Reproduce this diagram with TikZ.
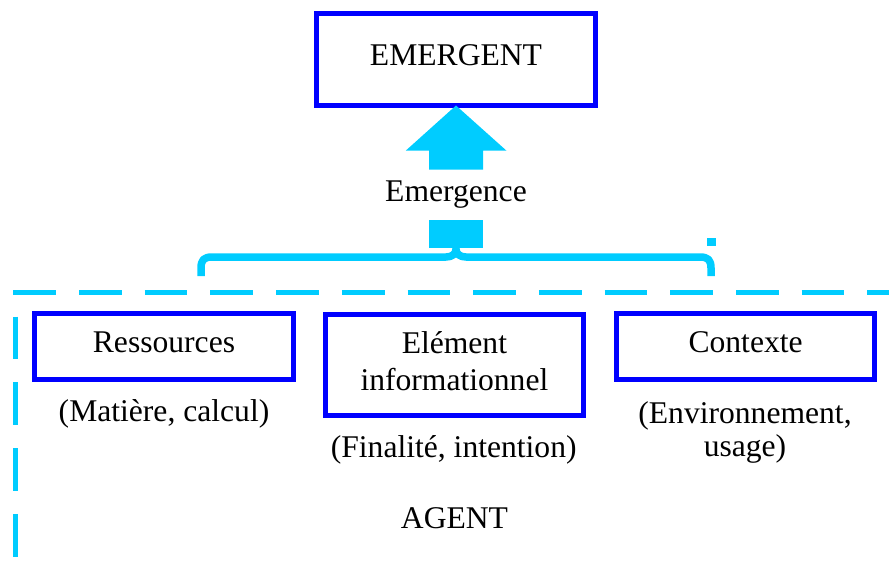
\documentclass[tikz,border=0pt]{standalone}
\usepackage{fontspec}
\setmainfont{Liberation Serif}
\definecolor{boxblue}{RGB}{0,0,255}
\definecolor{skycyan}{RGB}{0,204,255}
\begin{document}
\begin{tikzpicture}[x=1pt,y=-1pt,
  box/.style={draw=boxblue, line width=5pt, rectangle, inner sep=0pt, outer sep=0pt,
    minimum width=258.3pt, font=\fontsize{31.6}{37}\selectfont, text height=21pt, text depth=8.5pt},
  lbl/.style={inner sep=0pt, anchor=base, font=\fontsize{31.6}{37}\selectfont},
  dashline/.style={draw=skycyan, line width=5pt, dash pattern=on 42.7pt off 23pt},
  bracestyle/.style={draw=skycyan, line width=7.5pt, line join=round}]
\useasboundingbox (0,0) rectangle (889,570);

% boxes
\node[box, minimum width=279pt, minimum height=92pt] (emergent) at (456,59.5) {EMERGENT};
\node[box, minimum height=65.3pt] (res) at (164,346.6) {Ressources};
\node[box, minimum height=101.6pt, text height=60pt, text depth=8.6pt] (elem) at (454.4,365)
  {\begin{tabular}[b]{@{}c@{}}Elément\\informationnel\end{tabular}};
\node[box, minimum height=65.3pt] (ctx) at (745.6,346.6) {Contexte};

% labels
\node[lbl] (emlabel) at (456,201.7) {Emergence};
\node[lbl] (resnote) at (164,421.7) {(Matière, calcul)};
\node[lbl] (elemnote) at (453.7,457.5) {(Finalité, intention)};
\node[lbl, font=\fontsize{31.6}{33.4}\selectfont] (ctxnote) at (745,423.3)
  {\begin{tabular}[t]{@{}c@{}}(Environnement,\\usage)\end{tabular}};
\node[lbl] (agent) at (454.5,528.3) {AGENT};

% emergence arrow
\fill[skycyan] (emergent.south) -- ++(50.3,45) -- ++(-23.2,0) -- ++(0,19)
  -- ++(-54,0) -- ++(0,-19) -- ++(-23.2,0) -- cycle;

% stem of the brace
\node[fill=skycyan, inner sep=0pt, outer sep=0pt, minimum width=54pt, minimum height=27.7pt] (stem) at (456.3,233.85) {};

% brace
\draw[bracestyle] (201,276) -- (201,268) .. controls (201,260) and (204,257) .. (212,257)
  -- (446,257) .. controls (452,257) and (456,254) .. (456,249)
  .. controls (456,254) and (460,257) .. (466,257)
  -- (700,257) .. controls (708,257) and (711,260) .. (711,268) -- (711,276);
\fill[skycyan] (707,238.3) rectangle (715.5,246);

% agent boundary
\draw[dashline] (13.3,292.5) -- (889,292.5);
\draw[dashline] (15,316.7) -- (15,556.7);
\end{tikzpicture}
\end{document}
